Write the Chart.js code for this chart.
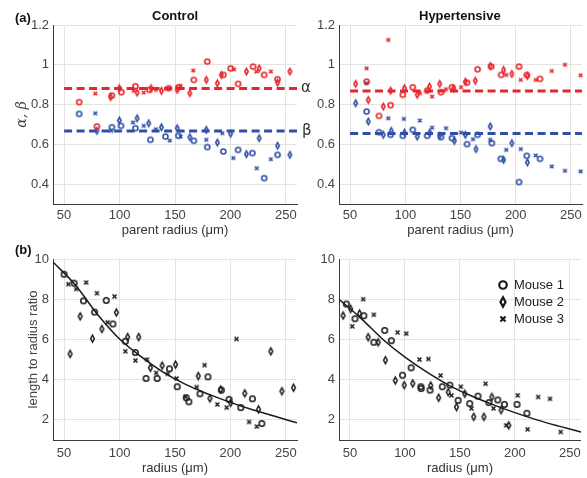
<!DOCTYPE html>
<html>
<head>
<meta charset="utf-8">
<script src="https://cdn.jsdelivr.net/npm/chart.js@4.4.1/dist/chart.umd.min.js"></script>
<style>
  body { margin: 0; background: #fff; width: 587px; height: 478px; position: relative; overflow: hidden; font-family: "Liberation Sans", Arial, sans-serif; }
  canvas { position: absolute; }
  .lbl { position: absolute; font-weight: bold; font-size: 13px; line-height: 13px; color: #111; white-space: nowrap; }
</style>
</head>
<body>
<canvas id="aCtrl" width="312" height="240" style="left:0;top:0"></canvas>
<canvas id="aHyp" width="275" height="240" style="left:312px;top:0"></canvas>
<canvas id="bCtrl" width="312" height="238" style="left:0;top:240px"></canvas>
<canvas id="bHyp" width="275" height="238" style="left:312px;top:240px"></canvas>
<div class="lbl" style="left:15px;top:11px">(a)</div>
<div class="lbl" style="left:15px;top:243px">(b)</div>
<div class="lbl" style="left:152px;top:9px">Control</div>
<div class="lbl" style="left:419px;top:9px">Hypertensive</div>
<script>
// axis ticks
var radiusTicks = [50, 100, 150, 200, 250];
var abTicks = [0.4, 0.6, 0.8, 1, 1.2];
var ratioTicks = [2, 4, 6, 8, 10];
var mice = ['Mouse 1', 'Mouse 2', 'Mouse 3'];

// (a) Control: [parent radius, value]
var ctrlAlpha1 = [[63.6,.812],[79.6,.69],[93.1,.845],[101.6,.862],[114.3,.892],[126.9,.874],[144.4,.882],[153,.887],[167,.924],[179.1,1.016],[193.6,.949],[200.2,.982],[206.9,.904],[220.4,.991],[230.4,.949],[242.5,.927]];
var ctrlAlpha2 = [[92,.838],[99.8,.882],[115.8,.86],[128.4,.882],[137.8,.869],[152,.874],[163.4,.857],[178.2,.924],[188.2,.907],[191.8,.949],[214.4,.966],[225.9,.982],[242.5,.91],[253.6,.966]];
var ctrlAlpha3 = [[78.1,.855],[112.7,.87],[121.8,.86],[132.7,.874],[142.3,.88],[155,.894],[166.4,.971],[203.2,.977],[223.4,.966],[236.4,.966]];
var ctrlBeta1 = [[63.6,.753],[93.1,.686],[101.3,.693],[114.3,.681],[127.8,.623],[141.4,.639],[153,.643],[167,.618],[179.1,.586],[193.6,.564],[206.9,.572],[219.8,.556],[230.4,.43],[242.5,.547]];
var ctrlBeta2 = [[79.6,.668],[99.8,.72],[115.8,.731],[126.3,.706],[137.8,.686],[152,.681],[163.4,.636],[178.2,.673],[188.2,.609],[200.2,.653],[214.4,.551],[225.9,.631],[242.5,.593],[253.6,.547]];
var ctrlBeta3 = [[78.1,.756],[92.5,.668],[112.1,.71],[121.8,.693],[132.7,.676],[145.3,.619],[155,.639],[178.2,.623],[192.7,.656],[202.6,.531],[223.7,.48],[236.4,.525]];
var ctrlLevels = [0.881, 0.667];

// (a) Hypertensive
var hypAlpha1 = [[65,.915],[76.2,.743],[86.7,.797],[97.8,.849],[106.8,.887],[119.8,.87],[132.4,.862],[142.3,.887],[155.9,.91],[165.5,.977],[177.8,.991],[186.8,.949],[203,.991],[210,.949],[222,.929]];
var hypAlpha2 = [[55.1,.904],[66.5,.823],[80.1,.79],[86.7,.87],[99.3,.882],[110.8,.849],[121.9,.89],[131.2,.904],[143.8,.882],[154.4,.915],[163.4,.92],[176.9,.994],[189,.974],[196.5,.954],[210.6,.944]];
var hypAlpha3 = [[65,.982],[84.6,1.125],[113.2,.857],[124.3,.84],[136.9,.877],[150.5,.887],[191.4,.949],[204.6,.924],[218.1,.924],[232.6,.969],[244.6,1.0],[258.7,.947]];
var hypBeta1 = [[65,.765],[76.2,.661],[86.7,.648],[97.8,.643],[106.8,.673],[119.8,.643],[132.4,.636],[142.3,.631],[155.9,.601],[165.5,.648],[178.4,.606],[186.5,.527],[203,.41],[210,.542],[222,.527]];
var hypBeta2 = [[55.1,.807],[66.5,.715],[80.1,.648],[87.3,.668],[99.3,.659],[110.8,.639],[122.2,.659],[131.2,.643],[144.4,.618],[154.4,.648],[164,.576],[176.9,.69],[189,.522],[196.5,.606],[210.6,.509]];
var hypBeta3 = [[65,.907],[84.6,.731],[98.7,.728],[113.2,.72],[124.3,.684],[136.9,.681],[150.5,.659],[161.3,.626],[176.9,.623],[191.4,.572],[204.6,.576],[218.1,.544],[232.6,.489],[244.6,.467],[258.7,.464]];
var hypLevels = [0.868, 0.655];
var levelRange = [50, 260];

// (b) length to radius ratio: [radius, ratio]
var ctrlRatio1 = [[50,9.24],[59,8.8],[67.5,7.92],[77.5,7.36],[88,7.94],[94,6.77],[105.2,5.91],[114.3,5.35],[123.9,4.06],[133.9,4.06],[145,4.54],[152,3.65],[160.1,3.1],[162.5,2.9],[172.5,3.3],[179.7,4.14],[191.8,3.48],[198.7,3.02],[209.3,2.61],[219.8,3.05],[228.3,1.82]];
var ctrlRatio2 = [[55.4,5.28],[64.5,7.15],[75.6,6.04],[84.1,6.52],[97.1,7.34],[107.3,6.12],[117.3,6.12],[127.8,4.59],[138.4,4.7],[150.5,4.75],[171,4.18],[181.5,3.07],[191.2,3.51],[200.2,2.85],[212.9,3.32],[225.3,2.52],[236.4,5.41],[246.4,3.43],[256.9,3.6]];
var ctrlRatio3 = [[53.9,8.75],[60.9,8.51],[69.9,8.83],[79.6,8.3],[89.2,6.85],[95.5,8.14],[105.2,5.41],[114.3,4.95],[124.8,5.0],[133,4.34],[143.5,4.29],[151.4,4.06],[159.5,3.15],[169.5,3.63],[176.7,4.72],[188.2,2.77],[196.6,2.61],[205.4,6.02],[216.8,1.9],[223.8,1.67]];
var hypRatio1 = [[46.7,7.76],[54.5,7.03],[62.6,7.18],[71.7,5.86],[81.6,6.45],[87.6,5.94],[97.8,4.22],[105.6,4.59],[114.4,3.65],[114.7,3.56],[122.8,3.48],[133.9,3.65],[140.8,3.73],[148.3,2.97],[158.9,2.81],[166.4,3.18],[176.3,2.86],[184.4,2.99],[190.5,2.77],[201.9,2.77],[210.9,2.33]];
var hypRatio2 = [[43.7,7.19],[50.6,7.52],[58.7,7.29],[66.5,6.11],[75.6,5.86],[82.2,4.97],[91.2,3.96],[99.3,3.73],[107.1,3.81],[123.4,3.71],[130.6,3.1],[139.3,3.38],[146.8,2.64],[154.4,3.3],[162.5,2.15],[171.8,2.15],[179,3.14],[187.4,2.49],[194.4,1.73]];
var hypRatio3 = [[52.1,6.65],[62,8.0],[71.7,7.23],[93.3,6.35],[101.1,6.29],[113.2,5.0],[121.3,5.03],[132.4,4.21],[142.3,3.22],[150.8,3.65],[160.4,2.57],[173.3,3.8],[180.5,2.57],[192,1.73],[202.5,3.22],[211.5,1.53],[221.1,3.14],[231.9,3.05],[241.6,1.4]];

// fitted curves
var fitRadius = [40, 60, 80, 100, 120, 140, 160, 180, 200, 220, 240, 260];
var ctrlFit = [9.85, 8.72, 7.25, 6.02, 5.12, 4.35, 3.75, 3.28, 2.87, 2.5, 2.18, 1.85];
var hypFit = [8.0, 7.05, 6.0, 5.12, 4.37, 3.72, 3.2, 2.76, 2.36, 2.0, 1.69, 1.4];

var RED = '#e6262b', BLUE = '#3050a6', BLACK = '#1a1a1a';
Chart.defaults.font.family = '"Liberation Sans", Arial, sans-serif';

function marker(shape, color, s, lw) {
    var c = document.createElement('canvas');
    var n = Math.ceil(s + lw * 2 + 2);
    c.width = n; c.height = n;
    var g = c.getContext('2d');
    var m = n / 2;
    g.strokeStyle = color;
    g.lineWidth = lw;
    g.beginPath();
    if (shape == 'o') {
        g.arc(m, m, s / 2, 0, Math.PI * 2);
    } else if (shape == 'd') {
        g.moveTo(m, m - s * 0.62);
        g.lineTo(m + s * 0.34, m);
        g.lineTo(m, m + s * 0.62);
        g.lineTo(m - s * 0.34, m);
        g.closePath();
    } else {
        var h = s * 0.36;
        g.moveTo(m - h, m - h); g.lineTo(m + h, m + h);
        g.moveTo(m + h, m - h); g.lineTo(m - h, m + h);
    }
    g.stroke();
    return c;
}

var shapes = ['o', 'd', 'x'];
function pts(arr) {
    return arr.map(function (p) { return {x: p[0], y: p[1]}; });
}
function scatterSets(groups, color, size, lw) {
    return groups.map(function (g, i) {
        return {
            data: pts(g),
            pointStyle: marker(shapes[i], color, size, lw),
            showLine: false,
            clip: false
        };
    });
}
function levelLine(level, color) {
    return {
        data: levelRange.map(function (x) { return {x: x, y: level}; }),
        showLine: true,
        borderColor: color,
        borderWidth: 3,
        borderDash: [8, 4.5],
        pointRadius: 0
    };
}
function fitLine(values) {
    return {
        data: fitRadius.map(function (x, i) { return {x: x, y: values[i]}; }),
        showLine: true,
        borderColor: BLACK,
        borderWidth: 1.5,
        cubicInterpolationMode: 'monotone',
        pointRadius: 0
    };
}

function panel(id, datasets, o) {
    return new Chart(document.getElementById(id), {
        type: 'scatter',
        data: { datasets: datasets },
        options: {
            responsive: false,
            animation: false,
            events: [],
            layout: { padding: { top: o.top, right: o.right, left: 0, bottom: 0 } },
            plugins: { legend: { display: false }, tooltip: { enabled: false } },
            scales: {
                x: {
                    type: 'linear', min: 40, max: 260,
                    afterBuildTicks: function (s) { s.ticks = radiusTicks.map(function (v) { return {value: v}; }); },
                    afterFit: function (s) { s.height = o.xh; },
                    grid: { color: '#e3e3e3', drawTicks: false },
                    border: { color: '#3a3a3a' },
                    ticks: { padding: o.xpad, color: '#444', font: { size: 13 } },
                    title: { display: true, text: o.xTitle, color: '#333', font: { size: 13 }, padding: { bottom: 2 } }
                },
                y: {
                    type: 'linear', min: o.ymin, max: o.ymax,
                    afterBuildTicks: function (s) { s.ticks = o.yTicks.map(function (v) { return {value: v}; }); },
                    afterFit: function (s) { s.width = o.yw; },
                    grid: { color: '#e3e3e3', drawTicks: false },
                    border: { color: '#3a3a3a' },
                    ticks: { padding: 4, color: '#444', font: { size: 13 },
                        callback: function (v) { return String(Math.round(v * 10) / 10); } },
                    title: o.yTitle ? { display: true, text: o.yTitle, color: '#444',
                        font: o.yFont || { size: 13 }, padding: { top: o.ytPad } } : { display: false }
                }
            }
        },
        plugins: o.plugins || []
    });
}

var abLabels = {
    id: 'abLabels',
    afterDatasetsDraw: function (chart) {
        var ctx = chart.ctx, area = chart.chartArea, y = chart.scales.y;
        ctx.save();
        ctx.font = '15px "DejaVu Sans"';
        ctx.textBaseline = 'middle';
        ctx.fillStyle = '#333';
        ctx.fillText('α', area.right + 4, y.getPixelForValue(ctrlLevels[0]));
        ctx.fillText('β', area.right + 5, y.getPixelForValue(ctrlLevels[1]));
        ctx.restore();
    }
};

var legendMarks = shapes.map(function (s) { return marker(s, BLACK, s == 'x' ? 7 : 7.5, 2.2); });
var mouseLegend = {
    id: 'mouseLegend',
    afterDraw: function (chart) {
        var ctx = chart.ctx, area = chart.chartArea;
        ctx.save();
        ctx.font = '13px "Liberation Sans"';
        ctx.textBaseline = 'middle';
        ctx.fillStyle = '#222';
        mice.forEach(function (name, i) {
            var img = legendMarks[i];
            var y = area.top + 26 + i * 17;
            ctx.drawImage(img, area.left + 164 - img.width / 2, y - img.height / 2);
            ctx.fillText(name, area.left + 175, y);
        });
        ctx.restore();
    }
};

var topOpts = { top: 25, xh: 36, xpad: 4, ymin: 0.3, ymax: 1.2, yTicks: abTicks, xTitle: 'parent radius (μm)' };
var botOpts = { top: 19, xh: 38, xpad: 6, ymin: 1, ymax: 10, yTicks: ratioTicks, xTitle: 'radius (μm)' };

panel('aCtrl',
    scatterSets([ctrlAlpha1, ctrlAlpha2, ctrlAlpha3], RED, 5, 1.6)
        .concat(scatterSets([ctrlBeta1, ctrlBeta2, ctrlBeta3], BLUE, 5, 1.6))
        .concat([levelLine(ctrlLevels[0], RED), levelLine(ctrlLevels[1], BLUE)]),
    Object.assign({}, topOpts, { yw: 53, right: 15, yTitle: 'α, β', ytPad: 13.6,
        yFont: { size: 14, style: 'italic', family: '"DejaVu Serif"' }, plugins: [abLabels] }));

panel('aHyp',
    scatterSets([hypAlpha1, hypAlpha2, hypAlpha3], RED, 5, 1.6)
        .concat(scatterSets([hypBeta1, hypBeta2, hypBeta3], BLUE, 5, 1.6))
        .concat([levelLine(hypLevels[0], RED), levelLine(hypLevels[1], BLUE)]),
    Object.assign({}, topOpts, { yw: 27, right: 5 }));

panel('bCtrl',
    scatterSets([ctrlRatio1, ctrlRatio2, ctrlRatio3], BLACK, 5.5, 1.5).concat([fitLine(ctrlFit)]),
    Object.assign({}, botOpts, { yw: 53, right: 15, yTitle: 'length to radius ratio', ytPad: 26 }));

panel('bHyp',
    scatterSets([hypRatio1, hypRatio2, hypRatio3], BLACK, 5.5, 1.5).concat([fitLine(hypFit)]),
    Object.assign({}, botOpts, { yw: 27, right: 5, plugins: [mouseLegend] }));
</script>
</body>
</html>
